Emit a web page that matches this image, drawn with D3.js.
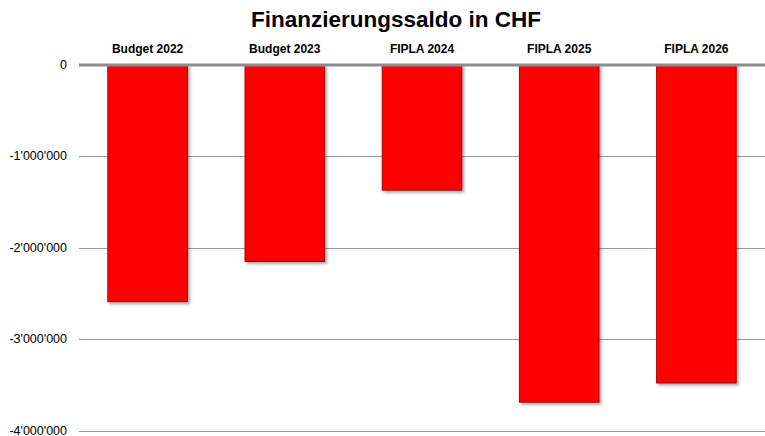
<!DOCTYPE html>
<html><head><meta charset="utf-8">
<script src="https://cdn.jsdelivr.net/npm/d3@7"></script>
<style>body{margin:0;background:#fff}svg{display:block;font-family:"Liberation Sans",Arial,sans-serif}</style>
</head><body>
<svg id="c" width="765" height="436"></svg>
<script>
const title = "Finanzierungssaldo in CHF";
const categories = ["Budget 2022","Budget 2023","FIPLA 2024","FIPLA 2025","FIPLA 2026"];
const values = [-2590000,-2150000,-1370000,-3690000,-3480000];
const yTicks = [0,-1000000,-2000000,-3000000,-4000000];

(function(){
const svg = d3.select("#c");
const pL = 79, pR = 765, pT = 65, pB = 430.5;
const x = d3.scaleBand().domain(categories).range([pL,pR]).paddingInner(0.42).paddingOuter(0.21);
const y = d3.scaleLinear().domain([0,-4000000]).range([pT,pB]);

const defs = svg.append("defs");
const f = defs.append("filter").attr("id","sh").attr("x","-10%").attr("y","-10%").attr("width","130%").attr("height","130%");
f.append("feDropShadow").attr("dx",2).attr("dy",2).attr("stdDeviation",1.5).attr("flood-color","#000").attr("flood-opacity",0.35);

const fmt = v => v===0 ? "0" : d3.format(",")(v).replace(/,/g,"'").replace("−","-");

svg.append("text").attr("x",396).attr("y",27).attr("text-anchor","middle")
  .attr("font-size",22.5).attr("font-weight","bold").attr("fill","#000").text(title);

const ga = svg.append("g");
ga.selectAll("line.g").data(yTicks.filter(d=>d!==0)).join("line")
  .attr("x1",pL).attr("x2",pR).attr("y1",d=>Math.round(y(d))+0.5).attr("y2",d=>Math.round(y(d))+0.5)
  .attr("stroke","#9a9a9a").attr("stroke-width",1);
ga.selectAll("text").data(yTicks).join("text")
  .attr("x",67).attr("y",d=>y(d)+4).attr("text-anchor","end")
  .attr("font-size",12.5).attr("fill","#000").text(fmt);

svg.append("g").selectAll("rect").data(categories).join("rect")
  .attr("x",d=>x(d)).attr("width",x.bandwidth())
  .attr("y",y(0)).attr("height",(d,i)=>y(values[i])-y(0))
  .attr("fill","#ff0000").attr("stroke","#b00000").attr("stroke-width",1)
  .attr("filter","url(#sh)");

svg.append("line").attr("x1",pL).attr("x2",pR).attr("y1",y(0)).attr("y2",y(0))
  .attr("stroke","#8c8c8c").attr("stroke-width",3);

svg.append("g").selectAll("text").data(categories).join("text")
  .attr("x",d=>x(d)+x.bandwidth()/2).attr("y",53).attr("text-anchor","middle")
  .attr("font-size",12).attr("font-weight","bold").attr("fill","#000").text(d=>d);
})();
</script>
</body></html>
